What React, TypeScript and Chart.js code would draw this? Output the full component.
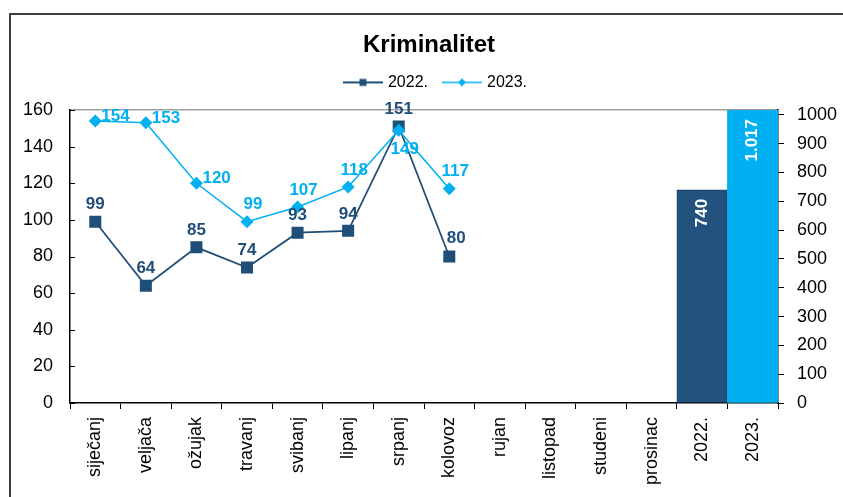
import React, { useEffect, useRef } from 'react';
import { Chart, registerables } from 'chart.js';

Chart.register(...registerables);

// ---- data ----
const categories = [
  'siječanj', 'veljača', 'ožujak', 'travanj', 'svibanj', 'lipanj', 'srpanj',
  'kolovoz', 'rujan', 'listopad', 'studeni', 'prosinac', '2022.', '2023.',
];
const series2022 = [99, 64, 85, 74, 93, 94, 151, 80];
const series2023 = [154, 153, 120, 99, 107, 118, 149, 117];
const totalCategories = ['2022.', '2023.'];
const totals = [740, 1017];
const seriesNames = ['2022.', '2023.'];

// axis ranges
const leftMin = 0;
const leftMax = 160;
const leftStep = 20;
const rightMin = 0;
const rightMax = 1017;
const rightTickMax = 1000;
const rightStep = 100;

// label placement (style)
const placement2022 = ['above', 'above', 'above', 'above', 'above', 'above', 'above', 'aboveRight'];
const placement2023 = ['right', 'right', 'right', 'above', 'above', 'above', 'below', 'above'];

// ---- styles ----
const DARK = '#1F4E79';
const DARK_BAR = '#23527F';
const LIGHT = '#00B0F0';
const FONT = "'Liberation Sans', Arial, Helvetica, sans-serif";

function pad(values: number[]): (number | null)[] {
  return categories.map((_, i) => (i < values.length ? values[i] : null));
}

function fmt(v: number): string {
  return String(v).replace(/\B(?=(\d{3})+(?!\d))/g, '.');
}

function legendImage(color: string, shape: 'rect' | 'diamond', lw: number) {
  const c = document.createElement('canvas');
  c.width = 55;
  c.height = 14;
  const g = c.getContext('2d')!;
  g.strokeStyle = color;
  g.lineWidth = lw;
  g.beginPath();
  g.moveTo(15, 7);
  g.lineTo(55, 7);
  g.stroke();
  g.fillStyle = color;
  if (shape === 'rect') {
    g.fillRect(35 - 3.5, 7 - 3.5, 7, 7);
  } else {
    g.beginPath();
    g.moveTo(35, 3);
    g.lineTo(39, 7);
    g.lineTo(35, 11);
    g.lineTo(31, 7);
    g.closePath();
    g.fill();
  }
  return c;
}

const framePlugin = {
  id: 'frame',
  beforeDraw(chart: any) {
    const ctx = chart.ctx;
    ctx.save();
    ctx.strokeStyle = '#3f3f3f';
    ctx.lineWidth = 2;
    ctx.strokeRect(10, 14, 1200, 1200);
    ctx.restore();
  },
};

const innerTicksPlugin = {
  id: 'innerTicks',
  afterDraw(chart: any) {
    const ctx = chart.ctx;
    const s = chart.scales.y;
    const left = chart.chartArea.left;
    ctx.save();
    ctx.strokeStyle = '#000';
    ctx.lineWidth = 1;
    s.ticks.forEach((t: any) => {
      const y = Math.round(s.getPixelForValue(t.value)) + 0.5;
      ctx.beginPath();
      ctx.moveTo(left, y);
      ctx.lineTo(left + 5, y);
      ctx.stroke();
    });
    ctx.restore();
  },
};

const labelsPlugin = {
  id: 'valueLabels',
  afterDatasetsDraw(chart: any) {
    const ctx = chart.ctx;
    ctx.save();
    ctx.font = `bold 17px ${FONT}`;
    const lineSets = [
      { idx: 0, values: series2022, place: placement2022, color: DARK, shift: 0 },
      { idx: 1, values: series2023, place: placement2023, color: LIGHT, shift: 6 },
    ];
    lineSets.forEach((ls) => {
      const meta = chart.getDatasetMeta(ls.idx);
      ctx.fillStyle = ls.color;
      ls.values.forEach((v, i) => {
        const el = meta.data[i];
        if (!el) return;
        const p = ls.place[i];
        ctx.textBaseline = 'middle';
        if (p === 'right') {
          ctx.textAlign = 'left';
          ctx.fillText(fmt(v), el.x + 6, el.y - 5);
        } else if (p === 'below') {
          ctx.textAlign = 'center';
          ctx.fillText(fmt(v), el.x + ls.shift, el.y + 19);
        } else if (p === 'aboveRight') {
          ctx.textAlign = 'center';
          ctx.fillText(fmt(v), el.x + 7, el.y - 18);
        } else {
          ctx.textAlign = 'center';
          ctx.fillText(fmt(v), el.x + ls.shift, el.y - 17);
        }
      });
    });
    // bar labels
    const bm = chart.getDatasetMeta(2);
    ctx.fillStyle = '#fff';
    totalCategories.forEach((c, k) => {
      const i = categories.indexOf(c);
      const el = bm.data[i];
      if (!el) return;
      const top = Math.max(el.y, chart.chartArea.top);
      ctx.save();
      ctx.translate(el.x, top + 9);
      ctx.rotate(-Math.PI / 2);
      ctx.textAlign = 'right';
      ctx.textBaseline = 'middle';
      ctx.fillText(fmt(totals[k]), 0, 0);
      ctx.restore();
    });
    ctx.restore();
  },
};

export default function App() {
  const ref = useRef<HTMLCanvasElement>(null);

  useEffect(() => {
    const canvas = ref.current;
    if (!canvas) return;
    Chart.defaults.font.family = FONT;
    Chart.defaults.color = '#000';

    const legendImgs = [legendImage(DARK, 'rect', 2), legendImage(LIGHT, 'diamond', 1.5)];

    const barData = categories.map((c) => {
      const k = totalCategories.indexOf(c);
      return k >= 0 ? totals[k] : null;
    });
    const barColors = categories.map((c) => (c === '2023.' ? LIGHT : DARK_BAR));
    const barBorders = categories.map((c) => (c === '2023.' ? LIGHT : '#1b4670'));
    const barBorderWidths = categories.map((c) => (c === '2023.' ? 0 : 1.5));

    const chart = new Chart(canvas, {
      type: 'bar',
      data: {
        labels: categories,
        datasets: [
          {
            type: 'line',
            label: seriesNames[0],
            data: pad(series2022),
            yAxisID: 'y',
            borderColor: DARK,
            backgroundColor: DARK,
            borderWidth: 1.75,
            pointStyle: 'rect',
            pointRadius: 8.5,
            pointBackgroundColor: DARK,
            pointBorderColor: DARK,
            pointBorderWidth: 0,
            order: 1,
          } as any,
          {
            type: 'line',
            label: seriesNames[1],
            data: pad(series2023),
            yAxisID: 'y',
            borderColor: LIGHT,
            backgroundColor: LIGHT,
            borderWidth: 1.5,
            pointStyle: 'rectRot',
            pointRadius: 6.5,
            pointBackgroundColor: LIGHT,
            pointBorderColor: LIGHT,
            pointBorderWidth: 0,
            order: 0,
          } as any,
          {
            type: 'bar',
            label: 'ukupno',
            data: barData,
            yAxisID: 'y1',
            backgroundColor: barColors,
            borderColor: barBorders,
            borderWidth: barBorderWidths,
            barPercentage: 1,
            categoryPercentage: 1,
            order: 2,
          } as any,
        ],
      },
      options: {
        responsive: false,
        devicePixelRatio: 1,
        animation: false,
        events: [],
        layout: { padding: { left: 15, right: 0, top: 14, bottom: 0 } },
        plugins: {
          title: {
            display: true,
            text: 'Kriminalitet',
            color: '#000',
            font: { size: 24, weight: 'bold', family: FONT },
            padding: { top: 16.5, bottom: 13.1 },
          },
          subtitle: {
            display: true,
            text: ' ',
            font: { size: 8 },
            padding: 0,
            weight: 500,
          } as any,
          legend: {
            display: true,
            position: 'top',
            labels: {
              usePointStyle: true,
              pointStyleWidth: 49,
              padding: 2,
              color: '#000',
              font: { size: 16, family: FONT },
              generateLabels: (ch: any) => {
                const items = (Chart.defaults.plugins.legend.labels as any).generateLabels(ch);
                return items
                  .filter((it: any) => it.datasetIndex !== 2)
                  .map((it: any) => ({ ...it, pointStyle: legendImgs[it.datasetIndex] }));
              },
              sort: (a: any, b: any) => a.datasetIndex - b.datasetIndex,
            },
          },
          tooltip: { enabled: false },
        },
        scales: {
          x: {
            offset: true,
            grid: {
              offset: true,
              display: true,
              drawOnChartArea: false,
              drawTicks: true,
              tickLength: 6,
              tickColor: '#000',
              tickWidth: 1,
            },
            border: { display: true, color: '#000', width: 1.5 },
            ticks: {
              autoSkip: false,
              minRotation: 90,
              maxRotation: 90,
              padding: 8,
              color: '#000',
              font: { size: 18 },
            },
            afterFit: (s: any) => {
              s.height = 94;
            },
          },
          y: {
            position: 'left',
            min: leftMin,
            max: leftMax,
            ticks: { stepSize: leftStep, padding: 17, color: '#000', font: { size: 18 } },
            grid: {
              drawTicks: false,
              lineWidth: 1.5,
              color: (c: any) => (c.tick && c.tick.value === leftMax ? '#a0a0a0' : 'rgba(0,0,0,0)'),
            },
            border: { display: true, color: '#000', width: 1.5 },
            afterFit: (s: any) => {
              s.width = 55;
            },
          },
          y1: {
            position: 'right',
            min: rightMin,
            max: rightMax,
            ticks: {
              stepSize: rightStep,
              padding: 13,
              color: '#000',
              font: { size: 18 },
              callback: (v: any) => String(v),
            },
            afterBuildTicks: (s: any) => {
              const t: { value: number }[] = [];
              for (let v = rightMin; v <= rightTickMax; v += rightStep) t.push({ value: v });
              s.ticks = t;
            },
            grid: {
              drawOnChartArea: false,
              drawTicks: true,
              tickLength: 6,
              tickColor: '#000',
            },
            border: { display: true, color: '#000', width: 1.5 },
            afterFit: (s: any) => {
              s.width = 65;
            },
          },
        },
      } as any,
      plugins: [framePlugin, innerTicksPlugin, labelsPlugin],
    });

    return () => chart.destroy();
  }, []);

  return (
    <div
      style={{
        position: 'fixed',
        left: 0,
        top: 0,
        width: 843,
        height: 497,
        overflow: 'hidden',
        background: '#fff',
      }}
    >
      <canvas ref={ref} width={843} height={497} style={{ display: 'block', width: 843, height: 497 }} />
    </div>
  );
}
